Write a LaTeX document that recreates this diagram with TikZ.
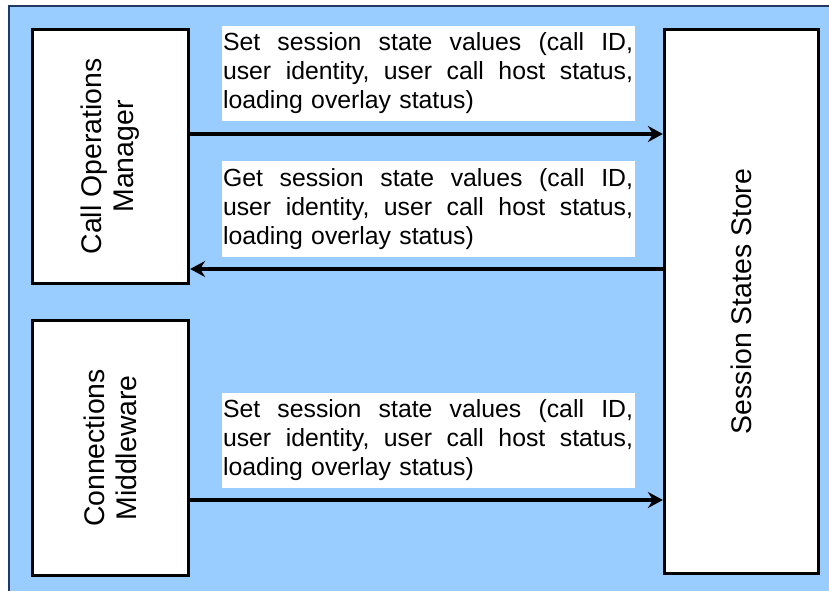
\documentclass[tikz,border=0pt]{standalone}
\usepackage{fontspec}
\setmainfont{Liberation Sans}
\usetikzlibrary{arrows.meta}
\definecolor{bgblue}{RGB}{153,204,255}
\definecolor{navy}{RGB}{32,56,100}
\newcommand{\jline}[1]{\leavevmode\hbox to 410pt{#1}}
\begin{document}
\begin{tikzpicture}[x=1pt,y=-1pt,
  box/.style={draw=black,fill=white,line width=3.2pt,inner sep=0pt},
  vtext/.style={rotate=90,align=center,inner sep=0pt,font=\fontsize{28.4}{32}\selectfont},
  msg/.style={fill=white,inner xsep=1.5pt,inner ysep=7pt,align=left,text width=410pt,font=\fontsize{24.8}{29}\selectfont},
  arr/.style={line width=3.2pt,-{Stealth[length=15pt,width=16pt,inset=5pt]}}]
\useasboundingbox (0,0) rectangle (829,591);
\fill[bgblue] (9,6) rectangle (829,591);
\draw[navy,line width=1.5pt] (9,591) -- (9,6) -- (829,6);
% boxes
\node[box,minimum width=156pt,minimum height=254pt] (com) at (110.5,156.5) {};
\node[box,minimum width=156pt,minimum height=255pt] (cm) at (110.5,448) {};
\node[box,minimum width=154pt,minimum height=544pt] (sss) at (741.5,301.5) {};
\node[vtext] (comt) at (com.center) {Call Operations\\Manager};
\node[vtext] (cmt) at (cm.center) {Connections\\Middleware};
\node[vtext] (ssst) at (sss.center) {Session States Store};
% message labels
\node[msg] (m1) at (428,73.5) {\jline{Set\hfill session\hfill state\hfill values\hfill (call\hfill ID,}\\\jline{user\hfill identity,\hfill user\hfill call\hfill host\hfill status,}\\loading overlay status)};
\node[msg] (m2) at (428,209) {\jline{Get\hfill session\hfill state\hfill values\hfill (call\hfill ID,}\\\jline{user\hfill identity,\hfill user\hfill call\hfill host\hfill status,}\\loading overlay status)};
\node[msg] (m3) at (428,440.5) {\jline{Set\hfill session\hfill state\hfill values\hfill (call\hfill ID,}\\\jline{user\hfill identity,\hfill user\hfill call\hfill host\hfill status,}\\loading overlay status)};
% arrows
\coordinate (y1) at (0,134);
\coordinate (y2) at (0,269);
\coordinate (y3) at (0,500);
\draw[arr] (com.east |- y1) -- (sss.west |- y1);
\draw[arr] (sss.west |- y2) -- (com.east |- y2);
\draw[arr] (cm.east |- y3) -- (sss.west |- y3);
\end{tikzpicture}
\end{document}
